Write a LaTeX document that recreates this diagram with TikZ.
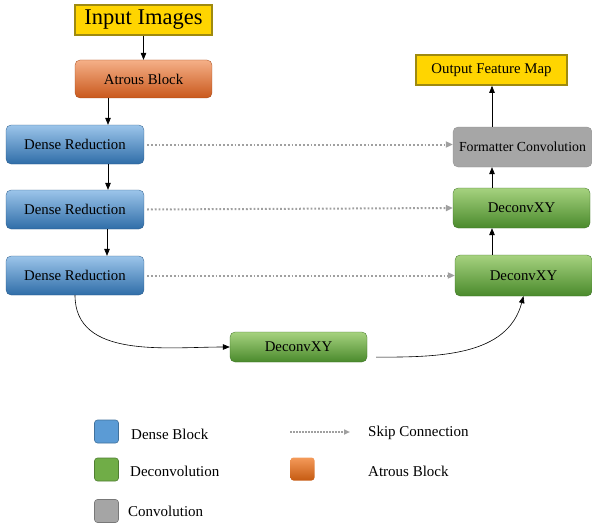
\documentclass[tikz,border=0pt]{standalone}
\usepackage{fontspec}
\setmainfont{Liberation Serif}
\usetikzlibrary{arrows.meta,calc}
\definecolor{bluetop}{HTML}{9CC5EA}
\definecolor{bluebot}{HTML}{2F6DA8}
\definecolor{greentop}{HTML}{A6D27F}
\definecolor{greenbot}{HTML}{4A8A2C}
\definecolor{orangetop}{HTML}{F5B088}
\definecolor{orangebot}{HTML}{C9581C}
\definecolor{graybox}{HTML}{A6A6A6}
\definecolor{yellowbox}{HTML}{FFD500}
\definecolor{yellowedge}{HTML}{9E8A10}
\definecolor{skipgray}{HTML}{A0A0A0}
\definecolor{legblue}{HTML}{5B9BD5}
\definecolor{legblueedge}{HTML}{41719C}
\definecolor{leggreen}{HTML}{70AD47}
\definecolor{leggreenedge}{HTML}{507E32}
\definecolor{leggray}{HTML}{A5A5A5}
\definecolor{leggrayedge}{HTML}{787878}
\definecolor{legorangetop}{HTML}{F49A5A}
\definecolor{legorangebot}{HTML}{C55A11}
\tikzset{
  box/.style={rounded corners=5pt, minimum width=138pt, minimum height=39pt, inner sep=0pt, font=\fontsize{14.8}{16}\selectfont},
  densebox/.style={box, top color=bluetop, bottom color=bluebot, draw=bluebot!80!black, line width=0.3pt},
  deconvbox/.style={box, top color=greentop, bottom color=greenbot, draw=greenbot!80!black, line width=0.3pt},
  atrousbox/.style={box, top color=orangetop, bottom color=orangebot, draw=orangebot!80!black, line width=0.3pt},
  convbox/.style={box, fill=graybox, draw=graybox!85!black, line width=0.3pt},
  ybox/.style={fill=yellowbox, draw=yellowedge, line width=1.6pt, inner sep=0pt},
  flow/.style={-{Triangle[length=7pt,width=5.5pt]}, black, line width=0.6pt},
  skip/.style={skipgray, line width=2pt, dash pattern=on 1.8pt off 2pt, -{Triangle[length=7pt,width=6pt]}},
  legsq/.style={rounded corners=3pt, minimum width=24pt, minimum height=23pt, inner sep=0pt, line width=0.6pt},
  legtxt/.style={anchor=west, font=\fontsize{15}{17}\selectfont, inner sep=0pt},
}
\begin{document}
\begin{tikzpicture}[x=1pt,y=1pt]
\useasboundingbox (0,0) rectangle (592,-527);
% top-left column
\node[ybox, minimum width=137pt, minimum height=30pt, font=\fontsize{22.5}{24}\selectfont] (inp) at (143.5,-20) {Input Images};
\node[atrousbox, minimum width=137pt, minimum height=38pt] (atr) at (143.5,-79) {Atrous Block};
\node[densebox] (dr1) at (75,-144.5) {Dense Reduction};
\node[densebox] (dr2) at (75,-209.5) {Dense Reduction};
\node[densebox] (dr3) at (75,-275.5) {Dense Reduction};
% right column
\node[ybox, minimum width=151pt, minimum height=30pt, font=\fontsize{14.8}{16}\selectfont] (out) at (491.5,-70) {Output Feature Map};
\node[convbox, minimum width=139pt, minimum height=40pt, font=\fontsize{13.8}{15}\selectfont] (fmt) at (522.5,-147) {Formatter Convolution};
\node[deconvbox, minimum width=137pt, minimum height=40pt] (dc1) at (521.5,-208) {DeconvXY};
\node[deconvbox, minimum width=137pt, minimum height=41pt] (dc2) at (523.5,-275.5) {DeconvXY};
% bottom
\node[deconvbox, minimum width=137pt, minimum height=30pt] (dcb) at (298.5,-347) {DeconvXY};
% flow arrows
\draw[flow] (inp.south) -- (atr.north);
\draw[flow] (atr.south -| 108,0) -- (dr1.north -| 108,0);
\draw[flow] (dr1.south -| 108,0) -- (dr2.north -| 108,0);
\draw[flow] (dr2.south -| 107,0) -- (dr3.north -| 107,0);
\draw[flow] (dc2.north -| 492,0) -- (dc1.south -| 492,0);
\draw[flow] (dc1.north -| 492,0) -- (fmt.south -| 492,0);
\draw[flow] (fmt.north -| 492,0) -- (out.south -| 492,0);
% skip connections
\draw[skip] ([xshift=3pt]dr1.east) -- (fmt.west |- dr1.east);
\draw[skip] ([xshift=3pt]dr2.east) -- (dc1.west);
\draw[skip] ([xshift=3pt]dr3.east) -- (dc2.west |- dr3.east);
% curves
\draw[flow] (dr3.south) to[out=-90,in=180] (dcb.west);
\draw[flow] ([xshift=9pt,yshift=5pt]dcb.south east) to[out=0,in=-105] (dc2.south);
% legend
\node[legsq, fill=legblue, draw=legblueedge] (lg1) at (106.5,-431.5) {};
\node[legsq, fill=leggreen, draw=leggreenedge] (lg2) at (106.5,-469.5) {};
\node[legsq, fill=leggray, draw=leggrayedge] (lg3) at (106.5,-511) {};
\node[legsq, top color=legorangetop, bottom color=legorangebot, draw=none] (lg4) at (302.5,-469) {};
\node[legtxt] (lt1) at (131,-434) {Dense Block};
\node[legtxt] (lt2) at (130,-471) {Deconvolution};
\node[legtxt] (lt3) at (128,-511) {Convolution};
\node[legtxt] (lt4) at (368,-433) {Skip Connection};
\node[legtxt] (lt5) at (368,-471) {Atrous Block};
\coordinate (sk1) at (290,-432);
\coordinate (sk2) at (350,-432);
\draw[skip, line width=1.5pt, dash pattern=on 1.5pt off 1.5pt, -{Triangle[length=6pt,width=5pt]}] (sk1) -- (sk2);
\end{tikzpicture}
\end{document}
